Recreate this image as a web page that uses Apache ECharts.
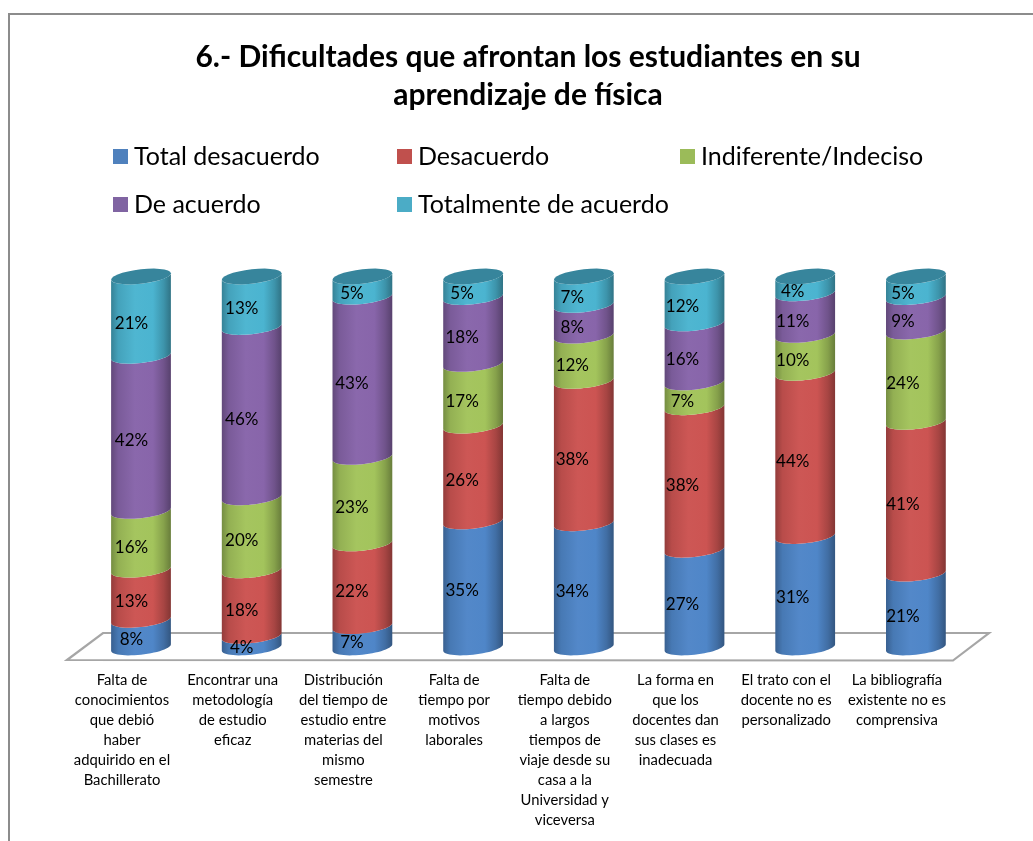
<!DOCTYPE html>
<html><head><meta charset="utf-8">
<style>html,body{margin:0;padding:0;background:#fff}#c{width:1033px;height:841px}</style>
<script src="https://cdn.jsdelivr.net/npm/echarts@6/dist/echarts.min.js"></script>
</head><body><div id="c"></div>
<script>
const titleText = '6.- Dificultades que afrontan los estudiantes en su\naprendizaje de física';
const categories = [
 'Falta de\nconocimientos\nque debió\nhaber\nadquirido en el\nBachillerato',
 'Encontrar una\nmetodología\nde estudio\neficaz',
 'Distribución\ndel tiempo de\nestudio entre\nmaterias del\nmismo\nsemestre',
 'Falta de\ntiempo por\nmotivos\nlaborales',
 'Falta de\ntiempo debido\na largos\ntiempos de\nviaje desde su\ncasa a la\nUniversidad y\nviceversa',
 'La forma en\nque los\ndocentes dan\nsus clases es\ninadecuada',
 'El trato con el\ndocente no es\npersonalizado',
 'La bibliografía\nexistente no es\ncomprensiva'
];
const seriesNames = ['Total desacuerdo','Desacuerdo','Indiferente/Indeciso','De acuerdo','Totalmente de acuerdo'];
// each rounds to the printed percentage
const totalDesacuerdo = [8.2,3.9,6.5,34.5,33.5,26.8,30.5,20.5];
const desacuerdo = [13.4,17.5,22.1,25.6,37.5,37.9,43.5,40.5];
const indiferente = [15.7,19.5,23.1,16.5,11.9,6.6,10.1,24.1];
const deAcuerdo = [41.5,45.5,42.8,17.9,8.1,15.7,11.1,9.2];
const totalmente = [21.2,13.49,5.4,5.49,7.49,12.49,4.49,5.49];
const legendColors = ['#4f81bd','#c0504d','#9bbb59','#8064a2','#4bacc6'];
const bodyColors = ['#4f86c8','#cc5452','#a3c45c','#8865aa','#4bb4d0'];
const capColor = '#37859c';

const FONT = 'Lato';
const allValues = [totalDesacuerdo,desacuerdo,indiferente,deAcuerdo,totalmente];

function shade(hex,f){
  const n=parseInt(hex.slice(1),16);
  const ch=[n>>16,(n>>8)&255,n&255].map(v=>Math.max(0,Math.min(255,Math.round(f>1?v+(255-v)*(f-1):v*f))));
  return 'rgb('+ch.join(',')+')';
}
function cylGradient(c){
  return new echarts.graphic.LinearGradient(0,0,1,0,[
    {offset:0,color:shade(c,0.72)},
    {offset:0.12,color:shade(c,0.9)},
    {offset:0.4,color:shade(c,1.02)},
    {offset:0.7,color:shade(c,1.0)},
    {offset:0.88,color:shade(c,0.82)},
    {offset:1,color:shade(c,0.64)}
  ]);
}
// 100 % stacked table: [category, lower share, upper share, printed value]
function stackRows(si){
  return categories.map((_,i)=>{
    const col=allValues.map(a=>a[i]);
    const sum=col.reduce((p,v)=>p+v,0);
    const low=col.slice(0,si).reduce((p,v)=>p+v,0);
    return [i,low/sum,(low+col[si])/sum,Math.round(col[si])];
  });
}
const RY=7.2, TILT=3.2, SAMPLES=28, LABEL_DX=-9.5, LABEL_STEP=-0.5, LABEL_DY=7, BASE_INSET=3, LABEL_BASE_INSET=5;
function arc(cx,cy,a,from,to){
  const pts=[];
  for(let k=0;k<=SAMPLES;k++){
    const t=from+(to-from)*k/SAMPLES;
    pts.push([cx+a*Math.cos(t),cy+RY*Math.sin(t)-TILT*Math.cos(t)]);
  }
  return pts;
}
function makeRender(si){
  return function(params,api){
    const i=api.value(0);
    const pLow=api.coord([i,api.value(1)]);
    const pHigh=api.coord([i,api.value(2)]);
    const a=api.size([1,0])[0]*0.27;
    const cx=pLow[0];
    const yLow=si===0?pLow[1]-BASE_INSET:pLow[1];
    const labelLow=si===0?pLow[1]-LABEL_BASE_INSET:pLow[1];
    const bottom=arc(cx,yLow,a,Math.PI,0);
    const top=arc(cx,pHigh[1],a,0,Math.PI);
    const children=[{
      type:'polygon',shape:{points:bottom.concat(top)},
      style:{fill:cylGradient(bodyColors[si])}
    }];
    if(si===bodyColors.length-1){
      children.push({
        type:'polygon',
        shape:{points:arc(cx,pHigh[1],a,0,2*Math.PI)},
        style:{fill:capColor}
      });
    }
    children.push({
      type:'text',z2:10,
      style:{
        text:api.value(3)+'%',x:cx+LABEL_DX+i*LABEL_STEP,y:(labelLow+pHigh[1])/2+LABEL_DY,
        align:'center',verticalAlign:'middle',
        font:'17px '+FONT,fill:'#000'
      }
    });
    return {type:'group',children};
  };
}
const legendRows=[
  {names:[seriesNames[0]],left:113,top:144},
  {names:[seriesNames[1]],left:397,top:144},
  {names:[seriesNames[2]],left:680,top:144},
  {names:[seriesNames[3]],left:113,top:192},
  {names:[seriesNames[4]],left:397,top:192}
];
const chart=echarts.init(document.getElementById('c'),null,{renderer:'canvas'});
chart.setOption({
  animation:false,
  backgroundColor:'#fff',
  title:{
    text:titleText,left:528,top:38,textAlign:'center',padding:0,
    textStyle:{fontFamily:FONT,fontWeight:'bold',fontSize:30,lineHeight:38,color:'#000'}
  },
  legend:legendRows.map(r=>({
    data:r.names,left:r.left,top:r.top,icon:'rect',itemWidth:15,itemHeight:15,itemGap:0,padding:0,
    selectedMode:false,
    textStyle:{fontFamily:FONT,fontSize:25,color:'#000',padding:[0,0,0,1]}
  })),
  grid:[
    {left:85.65,top:276.5,width:885.6,height:374,containLabel:false},
    {left:66.65,top:276.5,width:885.6,height:374,containLabel:false}
  ],
  xAxis:[
    {type:'category',data:categories,gridIndex:0,
     axisLine:{show:false},axisTick:{show:false},splitLine:{show:false},axisLabel:{show:false}},
    {type:'category',data:categories,gridIndex:1,position:'bottom',
     axisLine:{show:false},axisTick:{show:false},splitLine:{show:false},
     axisLabel:{interval:0,margin:20,fontFamily:FONT,fontSize:14.8,lineHeight:19.9,color:'#000',align:'center',verticalAlign:'top'}}
  ],
  yAxis:[
    {type:'value',min:0,max:1,show:false,gridIndex:0},
    {type:'value',min:0,max:1,show:false,gridIndex:1}
  ],
  graphic:[
    {type:'polyline',z:-10,shape:{points:[[9,841],[9,14],[1033,14]]},style:{fill:null,stroke:'#8c8c8c',lineWidth:2}},
    {type:'polygon',z:-5,shape:{points:[[67,660],[103,633],[989,633],[953,660.5]]},style:{fill:'#fff',stroke:'#a6a6a6',lineWidth:2.2}}
  ],
  series:seriesNames.map((name,si)=>({
    name,type:'custom',data:stackRows(si),
    xAxisIndex:0,yAxisIndex:0,
    itemStyle:{color:legendColors[si]},
    encode:{x:0,y:[1,2]},
    clip:false,
    renderItem:makeRender(si)
  }))
});
</script></body></html>
